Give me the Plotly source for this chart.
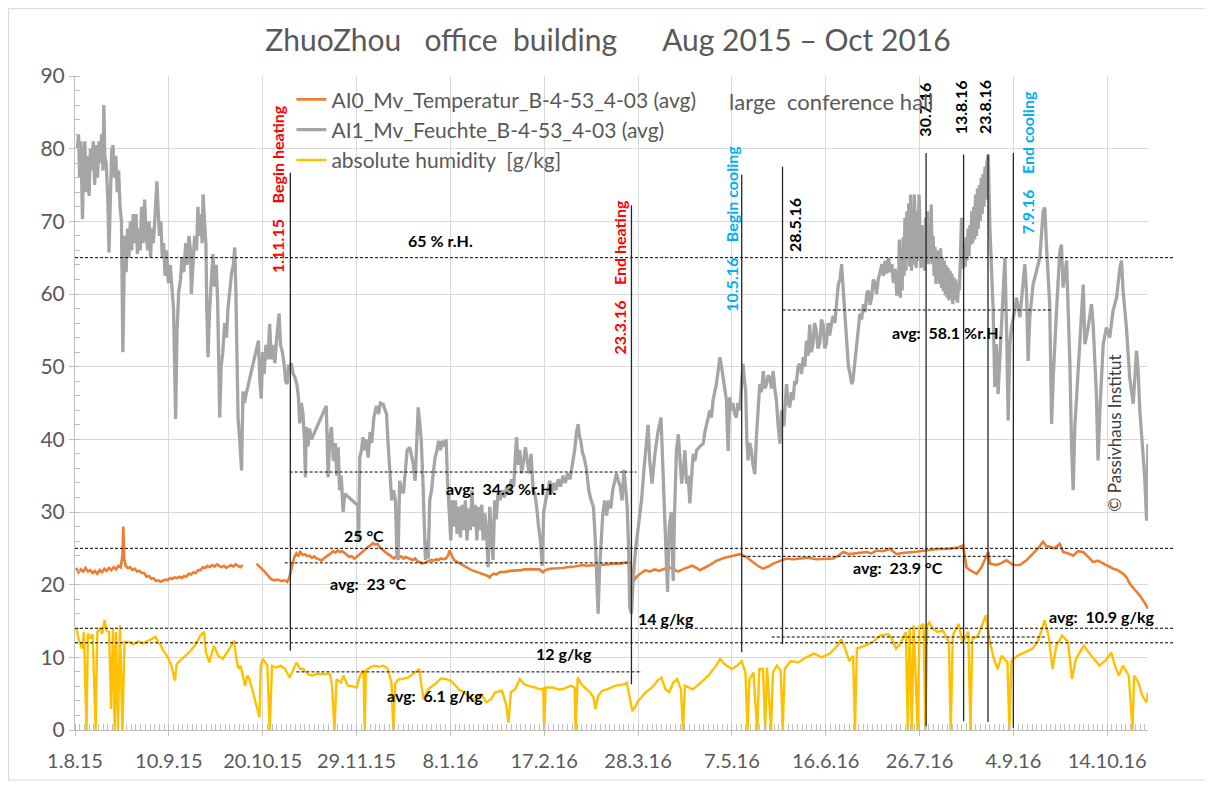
import numpy as np
import pandas as pd
import plotly.graph_objects as go

BASE = "2015-08-01"
X_END_DAY = 457.4

# ---------------- data (day offset from 1.8.15, value) ----------------
temp_day = [0.5, 1.5, 2.5, 3.5, 4.5, 5.5, 6.5, 7.5, 8.5, 9.5, 10.5, 11.5, 12.5, 13.5, 14.5, 15.5,
            16.5, 17.5, 18.5, 19.5, 20.2, 20.6, 21.0, 21.6, 22.5, 23.5, 24.5, 25.5, 26.5, 27.5,
            28.5, 29.5, 30.5, 31.5, 32.5, 33.5, 34.5, 35.5, 36.5, 37.5, 38.5, 39.5, 40.5, 41.5,
            42.5, 43.5, 44.5, 45.5, 46.5, 47.5, 48.5, 49.5, 50.5, 51.5, 52.5, 53.5, 54.5, 55.5,
            56.5, 57.5, 58.5, 59.5, 60.5, 61.5, 62.5, 63.5, 64.5, 65.5, 66.5, 67.5, 68.5, 69.5,
            70.5, 71.5, 74.5, 77.4, 78.5, 79.5, 80.5, 81.5, 82.5, 83.5, 85.0, 86.5, 88.0, 89.5,
            90.5, 91.5, 92.5, 93.5, 94.4, 95.2, 96.0, 97.0, 98.0, 99.0, 100.0, 101.0, 102.0,
            103.0, 104.0, 105.0, 106.0, 107.0, 108.0, 109.0, 110.0, 111.0, 112.0, 113.0, 114.0,
            115.0, 116.0, 117.0, 118.0, 119.0, 120.0, 121.0, 122.0, 123.0, 124.0, 125.0, 126.0,
            127.0, 128.0, 129.0, 130.0, 131.0, 132.0, 133.0, 134.0, 135.0, 136.0, 137.0, 138.0,
            139.0, 140.0, 141.0, 142.0, 143.0, 144.0, 145.0, 146.0, 147.0, 148.0, 149.0, 150.0,
            151.0, 152.0, 153.0, 154.0, 155.0, 156.0, 157.0, 158.0, 159.0, 159.7, 160.5, 161.5,
            162.5, 163.5, 164.5, 165.5, 166.8, 168.0, 169.0, 170.0, 171.0, 172.0, 173.0, 174.0,
            175.0, 176.0, 176.8, 177.5, 178.5, 179.5, 181.0, 182.5, 184.0, 185.5, 187.0, 188.5,
            190.0, 191.5, 193.0, 195.0, 196.5, 198.0, 199.5, 200.5, 202.4, 204.0, 206.0, 208.0,
            209.5, 211.0, 213.0, 215.0, 216.6, 218.0, 220.0, 222.0, 224.0, 226.0, 228.0, 230.0,
            232.0, 234.0, 236.0, 236.8, 237.4, 238.0, 238.8, 240.0, 241.5, 243.0, 245.0, 247.0,
            249.0, 251.0, 253.0, 255.0, 257.0, 259.0, 261.0, 263.0, 265.0, 266.4, 270.0, 273.5,
            277.0, 280.6, 283.4, 286.2, 289.1, 291.0, 293.3, 295.5, 297.6, 300.5, 303.3, 306.0,
            309.0, 312.5, 316.1, 320.0, 323.2, 325.5, 327.5, 330.0, 333.1, 335.5, 337.4, 339.5,
            341.7, 344.5, 347.3, 350.2, 353.5, 357.3, 360.0, 363.0, 366.0, 368.7, 371.5, 374.3,
            376.5, 378.6, 380.0, 381.5, 384.3, 386.4, 389.3, 390.0, 392.8, 395.0, 397.1, 399.9,
            402.8, 405.6, 408.5, 410.5, 412.7, 414.0, 415.6, 417.5, 419.8, 421.2, 423.5, 425.5,
            427.5, 429.8, 432.0, 434.0, 436.0, 438.3, 440.5, 442.6, 444.5, 446.8, 448.3, 449.7,
            451.8, 453.9, 455.8, 457.4]
temp_val = [22.3, 21.7, 22.1, 21.8, 22.3, 21.8, 22.0, 21.6, 21.9, 21.5, 22.0, 21.7, 22.2, 21.9, 22.3, 22.0,
            22.4, 22.1, 22.6, 22.4, 24.0, 28.0, 23.5, 22.6, 22.3, 22.4, 22.0, 22.2, 21.8, 21.9,
            21.6, 21.6, 21.1, 21.2, 20.8, 20.9, 20.5, 20.6, 20.4, 20.6, 20.7, 20.6, 20.9, 20.8,
            21.0, 20.9, 21.1, 20.9, 21.2, 21.1, 21.5, 21.4, 21.7, 21.6, 22.0, 22.0, 22.4, 22.3,
            22.6, 22.4, 22.7, 22.5, 22.8, 22.6, 22.4, 22.6, 22.3, 22.5, 22.7, 22.5, 22.8, 22.6,
            22.4, 22.7, None, 22.9, 22.6, 22.2, 21.9, 21.5, 21.1, 20.8, 20.6, 20.7, 20.5, 20.6,
            20.4, 21.1, 22.5, 23.8, 24.3, 23.9, 24.5, 24.1, 24.2, 23.9, 24.0, 23.7, 23.9,
            23.6, 23.5, 23.3, 23.6, 23.8, 24.0, 24.3, 24.6, 24.4, 24.7, 24.5, 24.6,
            24.3, 24.0, 23.8, 23.9, 23.6, 23.8, 24.1, 24.4, 24.7, 24.9, 25.2, 25.4,
            25.7, 25.5, 25.6, 25.1, 24.8, 24.6, 24.3, 24.1, 23.8, 23.6, 23.9, 23.7,
            23.9, 23.6, 23.8, 23.7, 23.5, 23.4, 23.6, 23.2, 23.1, 22.9, 23.0, 23.2,
            23.3, 23.4, 23.3, 23.5, 23.4, 23.6, 23.5, 23.6, 24.0, 24.7, 24.0, 23.4,
            23.2, 23.0, 22.9, 22.7, 22.4, 22.2, 22.0, 21.9, 21.8, 21.7, 21.6, 21.5,
            21.3, 21.2, 21.0, 21.3, 21.5, 21.4, 21.7, 21.7, 21.8, 21.9, 21.9, 22.0,
            22.0, 22.1, 22.1, 22.2, 22.2, 22.1, 21.7, 22.0, 22.2, 22.2, 22.3, 22.3,
            22.4, 22.4, 22.5, 22.6, 22.7, 22.6, 22.7, 22.7, 22.7, 22.8, 22.8, 22.9,
            22.9, 23.0, 23.1, 23.0, 21.5, 20.5, 20.8, 21.3, 21.6, 22.0, 21.8, 22.1,
            21.9, 22.2, 22.4, 22.2, 21.8, 22.1, 22.4, 22.6, 22.3, 22.0, 22.6, 23.3,
            23.7, 24.0, 24.2, 23.8, 23.1, 22.6, 22.2, 22.5, 22.9, 23.3, 23.6, 23.5,
            23.6, 23.7, 23.5, 23.6, 23.6, 24.0, 24.5, 24.2, 24.3, 24.4, 24.5, 24.3,
            24.7, 24.6, 24.95, 24.2, 24.4, 24.5, 24.6, 24.7, 24.8, 24.95, 24.9, 25.0,
            25.1, 25.4, 22.4, 22.0, 21.5, 22.4, 24.5, 22.9, 22.7, 23.0, 23.35, 22.7,
            22.7, 23.35, 24.3, 25.0, 25.9, 25.3, 25.2, 25.0, 25.6, 24.5, 24.3, 24.0,
            24.6, 24.5, 23.8, 23.1, 23.3, 22.9, 22.6, 22.2, 22.0, 21.5, 21.0, 20.1,
            19.3, 18.5, 17.6, 16.7]

rh_day = [1.0, 1.5, 2.0, 2.5, 3.2, 3.6, 4.2, 4.8, 5.4, 6.0, 6.6, 7.2, 7.8, 8.4, 9.0, 9.6, 10.2,
          10.8, 11.4, 11.9, 12.3, 12.7, 13.3, 14.0, 14.5, 15.0, 15.6, 16.2, 16.8, 17.4, 18.0,
          18.6, 19.2, 19.8, 20.4, 20.8, 21.2, 21.8, 22.4, 23.0, 23.6, 24.2, 24.8, 25.4, 26.0,
          26.6, 27.2, 27.8, 28.4, 29.0, 29.7, 30.3, 31.0, 31.6, 32.2, 32.8, 33.4, 34.0, 34.6,
          34.9, 35.4, 36.0, 36.6, 37.2, 37.8, 38.4, 39.0, 39.8, 40.6, 41.4, 42.0, 42.9, 43.5,
          44.2, 45.0, 45.6, 46.4, 47.2, 47.8, 48.6, 49.2, 49.6, 50.2, 51.0, 51.8, 52.4, 53.0,
          53.6, 54.2, 54.6, 55.2, 55.8, 56.2, 56.7, 57.4, 58.2, 58.8, 59.5, 60.2, 60.8, 61.7,
          62.3, 63.0, 63.8, 64.6, 65.2, 66.0, 66.8, 67.5, 68.1, 68.6, 69.0, 69.5, 70.2, 71.0,
          71.6, 72.3, 72.8, 78.2, 78.8, 79.4, 80.0, 80.6, 81.4, 82.2, 83.0, 83.6, 84.4, 85.2,
          86.0, 87.0, 87.6, 88.4, 89.2, 89.8, 90.4, 91.0, 91.5, 92.2, 93.0, 93.8, 94.6, 95.2,
          95.8, 96.5, 97.2, 97.8, 98.2, 98.6, 99.3, 100.0, 100.8, 107.1, 107.9, 108.6, 109.3,
          110.2, 111.0, 111.6, 112.2, 112.8, 113.5, 114.3, 115.0, 120.6, 120.9,
          121.4, 122.1, 122.8, 123.5, 124.2, 125.0, 125.8, 126.5, 127.4, 128.5, 129.4, 130.2,
          131.4, 132.2, 132.8, 133.4, 134.2, 135.0, 135.8, 136.6, 137.2, 137.7, 138.4, 139.2,
          140.0, 140.8, 141.6, 142.7, 143.5, 144.2, 145.0, 145.6, 146.3, 147.0, 147.6, 148.3,
          148.8, 149.4, 150.0, 150.6, 151.2, 152.0, 152.7, 153.5, 154.3, 155.0, 155.8, 156.6,
          157.4, 158.2, 158.8, 159.5, 160.2, 160.8, 161.5, 162.2, 162.9, 163.6, 164.3, 165.0,
          165.7, 166.4, 167.1, 167.8, 168.5, 169.2, 169.9, 170.6, 171.3, 172.0, 172.7, 173.4,
          174.0, 174.7, 175.4, 176.1, 176.8, 177.5, 178.2, 178.9, 179.6, 180.3, 181.1, 182.0,
          183.0, 184.0, 185.0, 186.0, 187.0, 188.2, 189.0, 189.6, 190.4, 191.2, 192.0, 192.8,
          193.6, 194.4, 195.3, 196.0, 196.8, 197.6, 198.4, 199.2, 199.8, 200.6, 201.4, 202.4,
          203.2, 204.0, 205.0, 206.0, 207.0, 208.0, 209.0, 210.0, 211.0, 212.0, 213.0, 213.8,
          214.5, 215.0, 215.6, 216.3, 217.0, 218.0, 219.0, 220.0, 221.0, 221.8, 222.5, 223.0,
          223.6, 224.2, 225.0, 225.8, 226.6, 227.5, 228.4, 229.2, 230.0, 230.8, 231.6, 232.4,
          233.2, 234.0, 234.8, 235.4, 236.0, 236.5, 237.2, 237.9, 239.0,
          240.6, 241.5, 242.5, 243.6, 244.3, 245.0, 246.0, 247.2, 248.5, 249.8, 250.5, 251.2,
          252.0, 252.6, 253.3, 254.2, 255.0, 255.6, 256.4, 257.2, 257.9, 258.6, 259.4, 260.0,
          260.7, 261.4, 262.1, 262.8, 263.5, 264.2, 265.0, 266.3, 267.8, 268.5, 269.2, 270.6,
          271.3, 272.0, 272.7, 273.4, 274.2, 274.9, 275.6, 276.3, 277.0, 277.7, 278.4, 279.1,
          279.8, 280.5, 281.2, 281.9, 282.6, 283.4, 284.1, 284.8, 285.4, 285.9, 286.4, 286.9,
          287.6, 288.3, 289.0, 289.8, 290.5, 291.2, 291.9, 292.6, 293.4, 294.1, 294.8, 295.5,
          296.2, 296.9, 297.6, 298.3, 299.0, 299.7, 300.5, 301.2, 301.7, 302.2, 302.7, 303.3,
          304.0, 304.7, 305.4, 306.1, 306.8, 307.5, 308.2, 309.0, 309.7, 310.4, 311.1, 311.8,
          312.5, 313.2, 313.9, 314.6, 315.3, 316.0, 316.7, 317.5, 318.2, 318.9, 319.6, 320.3,
          321.0, 321.7, 322.5, 323.2, 323.9, 324.6, 325.4, 326.1, 326.8, 327.5, 328.2, 329.0,
          329.7, 330.4, 331.1, 331.6, 332.0, 332.6, 333.2, 333.9, 334.6, 335.3, 336.1, 336.8,
          337.5, 338.2, 338.9, 339.6, 340.3, 341.0, 341.7, 342.4, 343.2, 344.0, 344.6, 345.3,
          346.0, 346.8, 347.5, 348.2, 348.9, 349.6, 350.3,
          351.0, 351.4, 351.8, 352.2, 352.6, 353.0, 353.4, 353.8, 354.2, 354.6, 355.0, 355.4,
          355.8, 356.2, 356.6, 357.0, 357.4, 357.8, 358.2, 358.6, 359.0, 359.4, 359.8, 360.2,
          360.6, 361.0, 361.4, 361.8, 362.2, 362.6, 363.0, 363.4, 363.8, 364.2, 364.6, 365.0,
          365.4, 365.8, 366.2, 366.6, 367.0, 367.4, 367.8, 368.2, 368.6, 369.0, 369.4, 369.8,
          370.2, 370.6, 371.0, 371.4, 371.8, 372.2, 372.6, 373.0, 373.4, 373.8, 374.2, 374.6,
          375.0, 375.4, 375.8, 376.2, 376.6, 377.0, 377.4, 377.9, 378.3, 378.7, 379.1, 379.5,
          379.9, 380.3, 380.7, 381.1, 381.5, 381.9, 382.3, 382.7, 383.1, 383.5, 383.9, 384.3,
          384.7, 385.1, 385.5, 385.9, 386.3, 386.7, 387.1, 387.5, 387.9, 388.3, 388.7, 389.3,
          390.0, 390.7, 391.4, 392.1, 392.8,
          393.5, 394.2, 395.0, 395.7, 396.4, 397.1, 397.8, 398.5, 399.2, 400.6, 401.3, 402.8,
          404.2, 404.9, 405.6, 406.3, 407.0, 408.4, 409.9, 411.3, 412.7, 413.4, 414.1, 415.5,
          416.3, 417.0, 418.4, 419.8, 420.5, 421.2, 422.7, 423.4, 424.1, 424.8, 425.5, 426.2,
          426.9, 428.3, 429.8, 430.5, 431.9, 433.3, 434.0, 435.4, 436.1, 436.9, 438.3, 439.7,
          441.1, 442.5, 444.0, 445.4, 446.1, 446.8, 448.2, 449.6, 451.1, 452.5, 453.2, 453.9,
          454.6, 456.0, 456.8, 457.4]
rh_val = [80, 82, 76, 81, 70.3, 78, 81, 74, 79, 73.5, 80, 77, 81, 75, 80.5, 76, 81,
          78, 82, 77, 86, 79, 78, 73, 65.7, 72, 79.7, 80.5, 76, 79, 74,
          77, 72, 70, 52, 60, 68, 63, 69, 65, 70, 66, 71, 67, 71,
          65.5, 69, 66, 72, 67, 73, 68, 66, 70, 65, 69, 67, 70, 74,
          75.5, 72, 68, 70, 65, 67, 62.5, 66, 61.5, 64, 61, 58, 42.8, 55,
          60.3, 62, 65, 63, 67, 64, 68, 66, 60, 64, 68, 66, 72, 68,
          71, 67, 73.7, 70, 67, 57.6, 51.3, 58, 63, 65.5, 61, 64, 59, 43,
          50, 52, 56, 54, 58, 61, 63, 64, 66.4, 60, 51, 43, 40, 35.7,
          46.6, 45, 46, 53.6, 48, 45.6, 52, 49, 53, 51, 55.9, 51, 53, 50.5,
          54, 57.3, 53, 52, 50.2, 48, 47.6, 50, 49.9, 50.5, 49, 48.5, 47.5, 46,
          42.2, 45, 43.5, 40, 34.8, 41.7, 39, 41.5, 40, 44.6, 34.8, 40, 41.7,
          37, 39.5, 35, 38.9, 33, 35, 30, 32.5, 30.9, 26.1,
          37.5, 38.5, 40.3, 38.5, 40, 37.5, 41, 39.5, 43, 44.6, 43.5, 45,
          44.8, 44, 43.5, 39.8, 35.3, 31.6, 33, 31.6, 24.3, 23.4, 34.3, 33,
          32.6, 36, 38.5, 38.9, 37.5, 36.6, 34.3, 38.9, 44.4, 42.1, 39.8, 34.3,
          28, 23.4, 26, 23.6, 31.6, 33, 35.3, 37.5, 38.5, 39.8, 38.5, 39.8,
          39, 40, 34.3, 30, 26.1, 31.6, 28, 31.6, 27, 30.7, 26.5, 31,
          27.5, 31.6, 26.1, 30.5, 27.5, 33, 28, 31, 26.1, 30.7, 27.5, 31,
          26.1, 29.8, 27.5, 22.4, 30.7, 27, 23.4, 31.6, 29, 32.6, 31.6, 33.0,
          32, 33.4, 32.5, 34.5, 33.5, 40.3, 36.5, 38.5, 35.3, 37, 38.9, 37,
          35.3, 38, 33, 32.5, 30.7, 28, 26.1, 22.6, 30, 31.5, 33, 34.3,
          32.5, 34, 33, 34.5, 33.5, 35, 34, 35.3, 34.5, 36.5, 38.5, 41,
          42.1, 40.5, 39.8, 38.2, 37.5, 36, 33, 31.6, 30.7, 26.1, 20.6, 16.0,
          22, 26.1, 29.8, 31.6, 29.5, 31.6, 30.5, 33, 34, 35.3, 34.3, 33.5,
          31.6, 35.8, 33, 30.7, 25, 16.9, 16.0, 20.6, 25,
          29.8, 31.6, 35.7, 39.8, 42, 37, 33.9, 38, 41, 43.0, 36, 29.3,
          24, 19, 28, 30, 20.5, 30, 38.5, 40.7, 36.5, 33.9, 36, 38.5,
          33.9, 35, 31.2, 35.7, 38, 37, 38.5, 39, 39.4, 41, 42.1, 44,
          43, 45.4, 46.5, 47.6, 49.5, 51.3, 50, 48.5, 46.5, 45.4, 38.4, 45.8,
          44, 45, 43.5, 43, 45, 44, 47.6, 50.4, 48, 46.8, 40, 37.1,
          39.5, 38.5, 36.5, 35.2, 40.5, 44, 47.6, 46.5, 49.4, 47, 47.6, 48.8,
          48.5, 47, 49.4, 47, 45.4, 42, 39.4, 44, 42, 42, 45, 47.6,
          45, 44.4, 46.5, 45.4, 48, 47.6, 50, 50.4, 49, 51.3, 50, 53.6,
          51.5, 55.8, 52, 53.2, 56, 55, 52.5, 53.2, 56.5, 55.8, 52.5, 53.2,
          56, 54.3, 56, 57, 56, 58.6, 61.4, 62, 64.1, 60.5, 56.8, 53.2,
          50, 49, 47.6, 48, 49.4, 51.5, 53.2, 55.5, 57.3, 56.5, 58.6, 57.5,
          60, 60.5, 58.5, 59.5, 62, 61.5, 60, 62, 63, 64.1, 62.5, 64.6,
          62.8, 65, 63, 64.1, 61.5, 63.5, 60,
          60, 67.5, 59.5, 66, 60.5, 67.8, 62.5, 70.5, 63.2, 71.4, 64.6, 72.5,
          63.8, 73.7, 63.2, 70, 64, 73.7, 65, 63.6, 71.4, 64.5, 73.7, 66,
          63.6, 69.5, 63.8, 68, 63.2, 70.5, 64.5, 71.4, 64.1, 69, 64.5, 72.3,
          64.1, 68, 62.5, 66.5, 61.4, 66, 61.8, 65.9, 61.4, 66.3, 60.8, 65,
          60.4, 64.6, 59.8, 63.9, 59.5, 63.6, 59.1, 63.2, 59.5, 62.8, 58.6, 62.3,
          59.2, 62, 60, 58.8, 61.5, 60.5, 64.6, 70.5, 65.9, 63.5, 67, 63.8,
          67.8, 64.6, 69, 65.2, 69.5, 66.8, 71.4, 67, 72, 67.5, 73.7, 68,
          74.5, 69, 75, 70.1, 76.0, 71, 76.5, 72, 77.5, 73, 78, 79.2,
          69.1, 62.3, 57.7, 47.2, 53.1,
          46.2, 50.8, 57.7, 61.3, 65.0, 55.4, 42.6, 53.1, 55.4, 57.7, 59.5, 56.8,
          61.3, 64.1, 60.4, 50.8, 56.8, 61.3, 63.2, 65.0, 71.4, 71.9, 66.8, 58.6,
          42.1, 48.5, 57.7, 65.9, 66.8, 60.9, 64.6, 57.7, 50.4, 39.4, 33.0, 41.7,
          45.8, 53.1, 61.3, 53.1, 55.4, 58.6, 55.9, 46.2, 37.1, 44.0, 53.1, 55.4,
          54.0, 57.7, 59.5, 63.6, 64.6, 60.4, 55.4, 48.5, 44.9, 52.2, 49.4, 44.0,
          41.2, 34.8, 28.8, 39.4]

ah_day = [0.6, 1.5, 3.0, 3.8, 4.9, 5.5, 6.5, 7.5, 8.8, 9.5, 10.7, 11.6, 12.6, 13.5, 14.5,
          15.4, 16.2, 16.9, 17.5, 18.3, 19.2, 20.2, 21.1, 23.0, 25.0, 27.0, 29.0, 31.0, 32.5,
          34.4, 35.5, 36.4, 37.5, 39.2, 41.1, 42.6, 43.3, 44.0, 46.5, 48.7, 51.0, 53.5, 55.0,
          55.8, 57.3, 59.2, 61.1, 63.0, 64.9, 67.8, 68.8, 69.7, 70.6, 72.5, 73.5, 74.4, 78.6,
          79.2, 80.1, 82.0, 83.0, 84.0, 85.8, 87.7, 89.6, 91.5, 94.4, 96.0, 97.3, 99.2, 101.1,
          103.0, 104.9, 107.0, 108.7, 109.6, 110.6, 111.5, 113.4, 114.4, 116.3, 118.2, 120.1,
          121.0, 122.2, 123.0, 123.5, 124.0, 125.8, 127.7, 129.6, 131.5, 133.4, 134.9, 135.7,
          136.5, 137.5, 139.1, 141.9, 144.8, 146.8, 147.7, 148.6, 150.5, 153.4, 156.0, 158.2,
          160.1, 162.0, 164.0, 165.8, 167.7, 169.6, 171.5, 173.4, 175.3, 177.2, 179.1, 181.0,
          182.0, 183.9, 184.8, 185.8, 187.7, 189.6, 191.5, 194.0, 196.2, 198.1, 199.6, 200.0,
          200.6, 203.8, 205.7, 207.7, 209.6, 211.5, 213.0, 213.4, 214.3, 215.5, 217.2, 219.5,
          221.0, 221.9, 223.0, 224.8, 226.7, 228.6, 230.5, 232.4, 234.3, 235.2, 236.7, 237.6,
          239.0, 240.0, 241.5, 243.3, 245.0, 246.7, 248.3, 250.0, 251.7, 253.3, 255.0, 256.7,
          258.3, 259.2, 260.0, 263.3, 266.7, 270.0, 273.3, 275.0, 276.7, 280.0, 282.5, 284.2,
          285.8, 286.7, 287.5, 289.2, 290.8, 291.7, 293.3, 294.2, 295.0, 296.7, 297.5, 299.2,
          300.8, 301.7, 302.5, 305.0, 308.3, 311.7, 315.0, 318.3, 321.7, 325.0, 326.7, 328.3,
          330.0, 331.7, 332.5, 333.3, 336.7, 340.0, 343.3, 346.7, 348.3, 350.0, 351.7, 354.2,
          355.0, 355.8, 356.7, 357.5, 359.2, 360.0, 361.7, 362.5, 363.3, 364.2, 365.8, 367.5,
          370.0, 372.5, 373.3, 374.2, 376.7, 378.3, 380.8, 381.7, 382.5, 385.0, 388.3, 390.0,
          391.7, 393.3, 395.0, 397.5, 398.3, 399.2, 401.7, 405.0, 408.3, 410.8, 413.3, 415.0,
          416.7, 418.3, 420.8, 423.3, 425.0, 426.7, 430.0, 433.3, 436.7, 440.0, 441.7, 443.3,
          445.0, 446.7, 449.2, 450.8, 451.5, 453.3, 455.0, 456.7, 457.4]
ah_val = [14.0, 12.5, 11.2, 13.5, 0, 13.3, 12.6, 13.2, 0, 13.5, 14.0, 13.2, 15.1, 13.6, 13.5,
          2.9, 14.0, 0, 13.5, 0, 14.4, 0, 12.1, 12.1, 11.8, 12.2, 11.9, 12.3, 12.5,
          12.8, 12.0, 11.8, 11.0, 10.2, 8.85, 6.8, 9.0, 9.3, 10.0, 10.7, 11.6, 13.0, 13.5,
          10.7, 9.3, 11.6, 10.2, 9.8, 10.7, 12.3, 9.8, 8.4, 8.85, 6.1, 7.5, 7.0, 1.8,
          8.85, 9.8, 8.85, 0, 8.85, 8.6, 8.85, 8.4, 7.2, 9.3, 8.4, 8.4, 7.7, 7.5,
          7.7, 7.7, 7.7, 7.7, 6.1, 0, 7.0, 6.5, 7.5, 6.1, 6.0, 5.85,
          7.0, 7.9, 8.2, 0, 8.2, 8.6, 8.85, 8.7, 8.85, 8.4, 6.5, 0,
          6.3, 6.9, 7.0, 7.2, 7.9, 8.4, 6.1, 4.2, 5.6, 6.3, 7.1, 7.0,
          6.8, 6.1, 5.5, 5.2, 4.7, 4.2, 4.5, 4.9, 3.8, 4.2, 5.2, 5.3,
          5.4, 3.3, 1.0, 5.2, 5.6, 7.0, 6.3, 6.0, 5.85, 5.6, 5.7, 0,
          5.85, 5.85, 5.6, 5.6, 5.9, 6.1, 5.8, 0, 7.2, 6.5, 5.85, 5.2,
          4.5, 2.9, 4.7, 5.4, 5.6, 5.9, 6.1, 6.2, 6.3, 6.5, 3.8, 2.6,
          3.3, 4.0, 4.5, 5.2, 5.6, 6.1, 6.8, 7.2, 5.6, 5.2, 6.5, 7.0,
          5.6, 0, 6.1, 5.6, 6.5, 7.5, 8.85, 9.8, 9.1, 8.4, 8.9, 9.5,
          7.9, 0, 7.0, 7.9, 0, 8.4, 8.4, 0, 8.6, 0, 7.9, 8.85,
          8.2, 0, 8.4, 9.5, 9.3, 10.0, 10.5, 10.0, 10.5, 11.6, 12.5, 11.2,
          9.5, 10.2, 0, 11.2, 11.6, 12.1, 13.0, 13.2, 12.5, 11.2, 11.8, 13.5,
          0, 14.0, 0, 14.4, 0, 14.2, 14.6, 0, 14.4, 14.8, 13.9, 13.5,
          13.7, 12.1, 0, 13.0, 14.6, 12.1, 13.5, 0, 12.5, 13.0, 15.8, 12.1,
          9.8, 8.4, 10.2, 9.3, 0, 9.5, 10.2, 10.7, 11.2, 12.5, 15.1, 13.0,
          8.4, 11.6, 13.0, 12.1, 7.0, 9.8, 11.6, 10.2, 8.85, 9.8, 10.7, 8.85,
          7.5, 8.85, 7.5, 0, 7.5, 6.5, 4.7, 3.8, 5.2]

# reference levels and averages
ref_levels = [65, 25, 14, 12]
avg_line_val = [35.5, 23.0, 23.9, 8.0, 12.8, 57.8]
avg_line_start_day = [91.5, 89.4, 284.6, 94.4, 297.0, 301.7]
avg_line_end_day = [239.3, 236.7, 400.4, 241.6, 413.4, 416.3]

# event markers
event_day = [91.8, 237.2, 284.2, 301.6, 362.8, 378.8, 389.2, 400.0]
event_low = [10.9, 6.3, 10.7, 11.8, 0.5, 1.2, 1.1, 0.3]
event_high = [76.7, 72.2, 76.4, 77.5, 79.4, 79.2, 79.2, 79.4]

NB = "\u00a0"
vlabel_text = ["1.11.15" + NB * 4 + "Begin heating", "23.3.16" + NB * 4 + "End heating",
               "10.5.16" + NB * 4 + "Begin cooling", "28.5.16", "30.7.16", "13.8.16", "23.8.16",
               "7.9.16" + NB * 4 + "End cooling"]
vlabel_day = [86.4, 231.7, 279.7, 306.9, 362.0, 377.3, 387.8, 406.2]
vlabel_val = [74.4, 62.2, 69.0, 69.5, 85.4, 85.7, 85.7, 78.1]
vlabel_color = ["#FF0000", "#FF0000", "#00B0F0", "#000000", "#000000", "#000000", "#000000", "#00B0F0"]

hlabel_text = ["65 % r.H.", "avg:" + NB * 2 + "34.3 %r.H.", "25 °C", "avg:" + NB * 2 + "23 °C",
               "avg:" + NB * 2 + "23.9 °C", "14 g/kg", "12 g/kg", "avg:" + NB * 2 + "6.1 g/kg",
               "avg:" + NB * 2 + "10.9 g/kg", "avg:" + NB * 2 + "58.1 %r.H."]
hlabel_day = [155.7, 181.6, 123.0, 125.3, 351.0, 252.0, 208.4, 153.6, 437.5, 371.9]
hlabel_val = [67.3, 33.2, 26.7, 20.1, 22.35, 15.4, 10.5, 4.7, 15.6, 54.7]

series_names = ["AI0_Mv_Temperatur_B-4-53_4-03 (avg)", "AI1_Mv_Feuchte_B-4-53_4-03 (avg)",
                "absolute humidity" + NB * 2 + "[g/kg]"]
series_colors = ["#ED7D31", "#A5A5A5", "#FFC000"]
title_text = ("ZhuoZhou" + NB * 3 + "office" + NB * 2 + "building" + NB * 6 + "Aug 2015 \u2013 Oct 2016")


def to_dates(days):
    return pd.Timestamp(BASE) + pd.to_timedelta(np.array(days, dtype=float), unit="D")


def day_str(d):
    return (pd.Timestamp(BASE) + pd.Timedelta(days=float(d))).strftime("%Y-%m-%d %H:%M:%S")


fig = go.Figure()
fig.add_trace(go.Scatter(x=to_dates(temp_day), y=np.array(temp_val, dtype=float), mode="lines",
                         name=series_names[0], line=dict(color=series_colors[0], width=2.6)))
fig.add_trace(go.Scatter(x=to_dates(rh_day), y=np.array(rh_val, dtype=float), mode="lines",
                         name=series_names[1], line=dict(color=series_colors[1], width=3.3)))
fig.add_trace(go.Scatter(x=to_dates(ah_day), y=np.array(ah_val, dtype=float), mode="lines",
                         name=series_names[2], line=dict(color=series_colors[2], width=2.4)))

shapes = []
dash = "3px,2px"
for lv in ref_levels:
    shapes.append(dict(type="line", xref="paper", yref="y", x0=0, x1=1.0233, y0=lv, y1=lv,
                       line=dict(color="black", width=1, dash=dash)))
for v, a, b in zip(avg_line_val, avg_line_start_day, avg_line_end_day):
    shapes.append(dict(type="line", xref="x", yref="y", x0=day_str(a), x1=day_str(b), y0=v, y1=v,
                       line=dict(color="black", width=1, dash=dash)))
for d, lo, hi in zip(event_day, event_low, event_high):
    shapes.append(dict(type="line", xref="x", yref="y", x0=day_str(d), x1=day_str(d), y0=lo, y1=hi,
                       line=dict(color="#262626", width=1.3)))
# outer chart border
shapes.append(dict(type="rect", xref="paper", yref="paper", x0=-0.062, x1=1.055, y0=-0.0765, y1=1.103,
                   line=dict(color="#D9D9D9", width=1), fillcolor="rgba(0,0,0,0)", layer="below"))

annotations = []
for t, d, v, c in zip(vlabel_text, vlabel_day, vlabel_val, vlabel_color):
    annotations.append(dict(x=day_str(d), y=v, xref="x", yref="y", text="<b>" + t + "</b>", textangle=-90,
                            showarrow=False, font=dict(family="Lato, sans-serif", size=16, color=c)))
for t, d, v in zip(hlabel_text, hlabel_day, hlabel_val):
    annotations.append(dict(x=day_str(d), y=v, xref="x", yref="y", text="<b>" + t + "</b>",
                            showarrow=False, font=dict(family="Lato, sans-serif", size=16, color="black")))
annotations.append(dict(x=day_str(322.3), y=86.5, xref="x", yref="y", text="large" + NB * 2 + "conference hall",
                        showarrow=False, font=dict(family="Lato, sans-serif", size=22, color="#595959")))
annotations.append(dict(x=day_str(443.3), y=40.9, xref="x", yref="y", text="© Passivhaus Institut",
                        textangle=-90, showarrow=False,
                        font=dict(family="Lato, sans-serif", size=17, color="#404040")))

fig.update_layout(
    width=1213, height=785,
    margin=dict(l=67, r=73, t=68, b=63),
    paper_bgcolor="white", plot_bgcolor="white",
    font=dict(family="Lato, sans-serif", color="#595959"),
    title=dict(text=title_text, x=0.4946, xanchor="center", y=0.959, yanchor="middle",
               font=dict(family="Lato, sans-serif", size=30, color="#595959")),
    legend=dict(x=0.2017, y=0.995, xanchor="left", yanchor="top", bgcolor="rgba(0,0,0,0)",
                font=dict(family="Lato, sans-serif", size=21, color="#595959"), itemwidth=30,
                tracegroupgap=0),
    shapes=shapes, annotations=annotations,
    xaxis=dict(type="date", range=[BASE, day_str(X_END_DAY)], tick0=BASE, dtick=40 * 86400000,
               tickformat="%-d.%-m.%y", showgrid=True, gridcolor="#D9D9D9", gridwidth=1,
               showline=True, linecolor="#BFBFBF", ticks="outside", ticklen=5, tickcolor="#BFBFBF",
               tickfont=dict(size=20, color="#595959"), ticklabelstandoff=8, zeroline=False,
               minor=dict(dtick=2 * 86400000, tick0=BASE, ticks="inside", ticklen=6,
                          tickcolor="#BFBFBF", showgrid=False)),
    yaxis=dict(range=[0, 90], dtick=10, showgrid=True, gridcolor="#D9D9D9", gridwidth=1,
               showline=True, linecolor="#BFBFBF", ticks="outside", ticklen=5, tickcolor="#BFBFBF",
               tickfont=dict(size=21, color="#595959"), zeroline=False,
               minor=dict(dtick=2, ticks="inside", ticklen=5, tickcolor="#BFBFBF", showgrid=False)),
)

fig.write_html("out.html")
